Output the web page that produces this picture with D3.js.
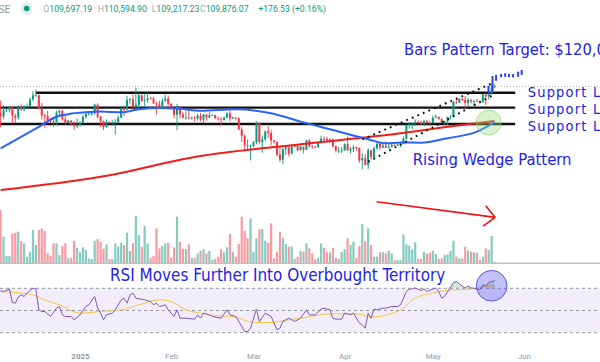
<!DOCTYPE html>
<html>
<head>
<meta charset="utf-8">
<script src="https://cdn.jsdelivr.net/npm/d3@7"></script>
<style>
  html, body { margin: 0; padding: 0; background: #fff; }
  svg { display: block; }
</style>
</head>
<body>
<svg id="chart"></svg>
<script>
// daily candles Dec 5 2024 .. May 22 2025, prices in $ thousands
var opens = [
  98.6, 97.0, 99.9, 99.9, 101.2, 97.3, 96.6, 101.1, 100.0, 101.4, 101.4, 104.3, 106.1, 106.1, 100.2, 97.5, 97.2, 95.2, 94.9, 94.7, 98.7, 99.4, 95.8, 94.3, 95.3, 93.7, 92.8,
  93.4, 94.4, 96.9, 98.1, 98.2, 98.3, 102.1, 96.9, 95.0, 92.5, 94.7, 94.5, 94.5, 94.6, 96.5, 100.5, 99.9, 104.1, 104.4, 101.1, 102.0, 106.1, 103.7, 104.0, 104.8, 104.7, 102.6, 102.1, 101.3, 103.7, 104.7,
  102.4, 100.7, 97.7, 101.4, 97.9, 96.6, 96.6, 96.5, 96.5, 96.1, 97.4, 95.7, 97.8, 96.6, 97.5, 97.6, 96.1, 95.8, 95.5, 96.6, 98.3, 96.1, 96.6, 96.3, 91.4, 88.7, 84.7, 84.4,
  84.4, 86.0, 94.3, 86.1, 87.2, 90.6, 89.9, 86.7, 86.1, 80.7, 78.5, 83.0, 83.7, 81.1, 84.0, 84.3, 82.6, 84.1, 82.7, 86.8, 84.2, 84.0, 83.8, 86.1, 87.5, 87.4, 86.9, 87.2, 84.3, 82.4, 82.4,
  82.5, 85.2, 82.5, 83.1, 83.8, 83.5, 78.2, 79.2, 76.3, 82.6, 79.6, 83.4, 85.3, 83.7, 84.5, 83.6, 84.0, 84.9, 84.5, 85.1, 85.2, 87.5, 93.4, 93.7, 93.9, 94.7, 94.6, 93.8, 95.0, 94.3,
  94.2, 96.5, 96.9, 95.9, 94.3, 94.8, 96.8, 97.0, 103.2, 102.9, 104.6, 104.1, 102.8, 104.2, 103.5, 103.7, 103.5, 103.1, 106.5, 105.6, 106.8, 109.70
];
var highs = [
  103.9, 101.9, 100.5, 101.3, 101.2, 98.2, 101.9, 102.5, 101.9, 102.6, 105.1, 107.8, 108.4, 106.5, 102.8, 98.1, 99.5, 96.4, 96.5, 99.5, 99.9, 99.9, 97.5, 95.5, 95.3, 94.9, 96.2,
  95.0, 97.8, 98.9, 98.7, 98.8, 102.5, 102.7, 97.2, 95.3, 95.8, 94.9, 95.4, 95.9, 97.4, 100.7, 100.8, 105.9, 104.9, 106.3, 109.4, 107.2, 106.4, 106.8, 107.1, 105.3, 105.5, 103.2, 103.8, 104.8, 106.4, 106.0,
  102.8, 101.5, 102.5, 101.7, 99.0, 99.2, 100.1, 96.9, 97.3, 98.3, 98.5, 98.1, 98.0, 98.8, 97.9, 97.7, 97.0, 96.8, 96.9, 98.8, 99.5, 96.9, 96.7, 96.5, 92.5, 89.3, 87.1, 85.1,
  86.5, 95.0, 94.4, 88.9, 91.0, 92.8, 91.3, 86.9, 86.5, 83.9, 83.6, 84.4, 84.3, 85.2, 84.7, 85.1, 84.7, 84.1, 87.0, 87.4, 84.8, 84.5, 86.1, 88.8, 88.5, 88.3, 87.8, 87.5, 84.6, 83.9, 83.9,
  85.5, 88.5, 83.9, 84.7, 84.2, 83.8, 81.2, 80.8, 83.5, 82.7, 84.2, 85.9, 86.0, 85.8, 86.4, 85.4, 85.4, 85.1, 85.6, 85.3, 88.5, 93.8, 94.5, 94.0, 95.8, 95.3, 95.2, 95.6, 95.5, 95.2,
  97.4, 97.9, 96.9, 96.3, 95.2, 96.9, 97.7, 103.7, 104.3, 104.9, 104.9, 105.8, 104.9, 104.3, 104.2, 104.6, 103.7, 106.7, 107.1, 107.3, 110.8, 110.59
];
var lows = [
  92.5, 95.9, 98.9, 98.7, 94.2, 94.3, 95.7, 99.3, 99.2, 100.6, 101.2, 103.3, 105.3, 100.1, 95.7, 92.2, 94.3, 94.2, 92.4, 93.4, 97.6, 95.2, 93.5, 94.1, 93.0, 91.3, 92.0,
  92.7, 94.2, 96.0, 97.5, 97.3, 97.9, 96.1, 92.5, 91.2, 92.2, 93.8, 93.7, 89.3, 94.3, 96.5, 97.3, 99.9, 102.3, 99.6, 99.5, 100.1, 103.3, 101.2, 102.8, 104.2, 102.5, 97.8, 100.3, 101.3, 103.3, 101.6,
  100.3, 96.2, 91.2, 96.2, 96.2, 95.7, 95.7, 95.7, 94.7, 95.3, 94.9, 94.1, 95.2, 96.3, 97.2, 96.1, 95.2, 93.4, 95.3, 96.4, 94.9, 95.8, 95.3, 91.3, 86.1, 82.3, 83.0, 78.2,
  83.8, 85.1, 85.1, 81.5, 86.4, 87.8, 84.7, 85.3, 80.0, 77.5, 76.6, 80.5, 79.9, 80.8, 83.6, 82.0, 82.4, 81.2, 82.7, 83.7, 83.2, 83.6, 83.8, 85.5, 86.3, 85.9, 85.8, 83.6, 81.6, 81.3, 81.3,
  82.4, 82.3, 81.2, 81.7, 82.4, 77.2, 74.4, 76.2, 74.6, 78.5, 78.9, 82.8, 82.8, 83.7, 83.6, 83.1, 83.8, 84.3, 84.5, 83.9, 85.1, 87.1, 91.8, 91.7, 92.9, 93.9, 93.6, 92.9, 93.7, 92.9,
  94.1, 96.3, 95.7, 94.2, 93.5, 93.4, 95.8, 97.0, 102.3, 102.8, 103.4, 100.8, 101.5, 102.6, 101.4, 103.1, 102.6, 103.1, 102.0, 104.2, 106.1, 109.22
];
var closes = [
  97.0, 99.9, 99.9, 101.2, 97.3, 96.6, 101.1, 100.0, 101.4, 101.4, 104.3, 106.1, 106.1, 100.2, 97.5, 97.2, 95.2, 94.9, 94.7, 98.7, 99.4, 95.8, 94.3, 95.3, 93.7, 92.8, 93.4,
  94.4, 96.9, 98.1, 98.2, 98.3, 102.1, 96.9, 95.0, 92.5, 94.7, 94.5, 94.5, 94.6, 96.5, 100.5, 99.9, 104.1, 104.4, 101.1, 102.0, 106.1, 103.7, 104.0, 104.8, 104.7, 102.6, 102.1, 101.3, 103.7, 104.7, 102.4,
  100.7, 97.7, 101.4, 97.9, 96.6, 96.6, 96.5, 96.5, 96.1, 97.4, 95.7, 97.8, 96.6, 97.5, 97.6, 96.1, 95.8, 95.5, 96.6, 98.3, 96.1, 96.6, 96.3, 91.4, 88.7, 84.7, 84.4, 84.4,
  86.0, 94.3, 86.1, 87.2, 90.6, 89.9, 86.7, 86.1, 80.7, 78.5, 83.0, 83.7, 81.1, 84.0, 84.3, 82.6, 84.1, 82.7, 86.8, 84.2, 84.0, 83.8, 86.1, 87.5, 87.4, 86.9, 87.2, 84.3, 82.4, 82.4, 82.5,
  85.2, 82.5, 83.1, 83.8, 83.5, 78.2, 79.2, 76.3, 82.6, 79.6, 83.4, 85.3, 83.7, 84.5, 83.6, 84.0, 84.9, 84.5, 85.1, 85.2, 87.5, 93.4, 93.7, 93.9, 94.7, 94.6, 93.8, 95.0, 94.3, 94.2,
  96.5, 96.9, 95.9, 94.3, 94.8, 96.8, 97.0, 103.2, 102.9, 104.6, 104.1, 102.8, 104.2, 103.5, 103.7, 103.5, 103.1, 106.5, 105.6, 106.8, 109.7, 109.88
];
// volume, relative units
var volumes = [
  158, 78, 20, 20, 88, 90, 93, 65, 58, 18, 33, 98, 53, 98, 103, 95, 28, 21, 58, 58,
  23, 50, 58, 13, 15, 66, 45, 31, 46, 38, 13, 11, 66, 71, 63, 42, 55, 11, 10, 58,
  48, 60, 53, 90, 35, 58, 140, 83, 48, 110, 58, 15, 20, 103, 43, 50, 58, 60, 15, 46,
  138, 63, 41, 41, 55, 14, 15, 28, 35, 40, 28, 35, 8, 11, 18, 40, 31, 46, 86, 33,
  18, 56, 138, 96, 74, 133, 33, 73, 100, 101, 66, 60, 118, 13, 33, 93, 75, 56, 48, 48,
  11, 18, 35,
  33, 58, 43, 28, 10, 15, 58, 45, 31, 31, 45, 15, 11, 32, 41, 73, 53, 63, 15, 50,
  116, 65, 103, 53, 18, 18, 31, 32, 28, 35, 28, 8, 8, 8, 85, 55, 51, 40, 61, 11,
  11, 33, 27, 30, 36, 26, 11, 13, 23, 25, 35, 66, 18, 13, 13, 48, 36, 33, 31, 30,
  8, 18, 43, 38, 80, 3
];

// moving averages, $ thousands
var ma50 = [
  ["2024-12-05", 83.4], ["2024-12-18", 92.6], ["2024-12-24", 96.9], ["2024-12-28", 98.0],
  ["2025-01-03", 98.8], ["2025-01-08", 99.1], ["2025-01-15", 98.8], ["2025-01-21", 100.1],
  ["2025-01-28", 100.6], ["2025-02-04", 100.3], ["2025-02-11", 99.5], ["2025-02-23", 100.1],
  ["2025-03-07", 98.4], ["2025-03-17", 94.8], ["2025-03-28", 91.2], ["2025-04-09", 87.3],
  ["2025-04-15", 85.5], ["2025-04-20", 85.9], ["2025-04-27", 85.8], ["2025-05-06", 87.7],
  ["2025-05-16", 90.5], ["2025-05-22", 94.6]
];
var ma200 = [
  ["2024-12-05", 65.5], ["2025-01-08", 71.2], ["2025-02-11", 80.1], ["2025-03-17", 85.1],
  ["2025-04-20", 89.8], ["2025-05-06", 92.6], ["2025-05-22", 95.1]
];

// RSI(14) and its moving average
var rsi = [
  ["2024-12-05", 68.0], ["2024-12-06", 67.1], ["2024-12-08", 69.3], ["2024-12-09", 57.2], ["2024-12-10", 56.6],
  ["2024-12-11", 62.1], ["2024-12-12", 64.1], ["2024-12-13", 62.6], ["2024-12-14", 65.7], ["2024-12-16", 70.2],
  ["2024-12-17", 69.3], ["2024-12-18", 50.6], ["2024-12-19", 49.1], ["2024-12-20", 49.1], ["2024-12-22", 44.6],
  ["2024-12-24", 52.1], ["2024-12-25", 53.6], ["2024-12-26", 46.1], ["2024-12-27", 44.6], ["2024-12-29", 44.6],
  ["2024-12-30", 41.6], ["2025-01-01", 46.1], ["2025-01-03", 53.6], ["2025-01-04", 55.1], ["2025-01-06", 62.6],
  ["2025-01-07", 52.1], ["2025-01-08", 47.6], ["2025-01-09", 41.6], ["2025-01-10", 46.1], ["2025-01-12", 47.6],
  ["2025-01-13", 50.6], ["2025-01-15", 59.6], ["2025-01-16", 61.1], ["2025-01-17", 56.6], ["2025-01-18", 64.1],
  ["2025-01-19", 65.7], ["2025-01-20", 61.1], ["2025-01-23", 59.6], ["2025-01-25", 58.1], ["2025-01-26", 55.1],
  ["2025-01-27", 56.6], ["2025-01-28", 53.6], ["2025-01-30", 55.1], ["2025-01-31", 50.6], ["2025-02-02", 44.6],
  ["2025-02-03", 50.6], ["2025-02-04", 43.1], ["2025-02-06", 43.1], ["2025-02-09", 42.2], ["2025-02-10", 46.1],
  ["2025-02-11", 43.1], ["2025-02-12", 47.6], ["2025-02-14", 46.1], ["2025-02-15", 44.6], ["2025-02-18", 43.1],
  ["2025-02-20", 50.6], ["2025-02-21", 46.1], ["2025-02-22", 45.2], ["2025-02-23", 44.6], ["2025-02-25", 35.6],
  ["2025-02-26", 31.1], ["2025-02-27", 31.1], ["2025-02-28", 34.1], ["2025-03-02", 51.3], ["2025-03-03", 40.1],
  ["2025-03-05", 47.6], ["2025-03-07", 44.6], ["2025-03-09", 32.6], ["2025-03-10", 34.1], ["2025-03-11", 40.1],
  ["2025-03-13", 43.1], ["2025-03-15", 40.1], ["2025-03-17", 43.1], ["2025-03-19", 50.6], ["2025-03-20", 46.1],
  ["2025-03-22", 46.1], ["2025-03-24", 51.3], ["2025-03-25", 52.1], ["2025-03-27", 50.6], ["2025-03-28", 43.1],
  ["2025-03-29", 42.2], ["2025-03-31", 42.2], ["2025-04-01", 47.6], ["2025-04-03", 46.1], ["2025-04-04", 47.6],
  ["2025-04-06", 38.6], ["2025-04-07", 37.1], ["2025-04-08", 34.1], ["2025-04-09", 47.6], ["2025-04-10", 43.1],
  ["2025-04-11", 51.3], ["2025-04-12", 50.6], ["2025-04-14", 52.1], ["2025-04-15", 52.1], ["2025-04-17", 53.6],
  ["2025-04-19", 53.6], ["2025-04-20", 55.1], ["2025-04-22", 67.1], ["2025-04-23", 69.3], ["2025-04-24", 69.3],
  ["2025-04-25", 70.2], ["2025-04-27", 68.0], ["2025-04-28", 69.3], ["2025-04-29", 67.1], ["2025-05-01", 69.3],
  ["2025-05-02", 70.2], ["2025-05-03", 67.1], ["2025-05-04", 61.1], ["2025-05-05", 62.6], ["2025-05-08", 75.2],
  ["2025-05-09", 76.1], ["2025-05-10", 74.0], ["2025-05-12", 70.2], ["2025-05-13", 72.2], ["2025-05-14", 70.2],
  ["2025-05-15", 70.2], ["2025-05-17", 68.6], ["2025-05-18", 73.1], ["2025-05-19", 72.2], ["2025-05-20", 75.2],
  ["2025-05-22", 77.0]
];
var rsiMa = [
  ["2024-12-05", 67.1], ["2024-12-12", 65.7], ["2024-12-16", 64.1], ["2024-12-20", 59.6], ["2024-12-25", 55.1],
  ["2025-01-01", 47.6], ["2025-01-08", 49.1], ["2025-01-15", 50.6], ["2025-01-21", 55.1], ["2025-01-28", 59.6],
  ["2025-02-01", 58.1], ["2025-02-06", 50.6], ["2025-02-11", 47.6], ["2025-02-17", 45.2], ["2025-02-22", 44.6],
  ["2025-03-01", 39.2], ["2025-03-07", 39.2], ["2025-03-13", 41.6], ["2025-03-17", 43.1], ["2025-03-28", 47.0],
  ["2025-04-05", 47.0], ["2025-04-10", 44.1], ["2025-04-18", 48.2], ["2025-04-21", 52.1], ["2025-04-24", 59.6],
  ["2025-05-01", 65.7], ["2025-05-08", 68.6], ["2025-05-15", 69.5], ["2025-05-19", 71.6], ["2025-05-22", 72.2]
];
var rsiLevels = [70, 50, 30];

// drawings
var supportLevels = [107.2, 100.8, 93.8];
var supportStarts = ["2024-12-17", "2024-12-04", "2024-12-04"];
var supportEnd = "2025-05-29";
var wedgeUpper = [["2025-04-07", 87.2], ["2025-05-21", 111.1]];
var wedgeLower = [["2025-04-09", 77.6], ["2025-05-22", 106.5]];
var patternDates = ["2025-05-19T22:00", "2025-05-21T07:00", "2025-05-22T12:00", "2025-05-24T05:00", "2025-05-25T14:00",
  "2025-05-26T22:00", "2025-05-28T07:00", "2025-05-30T00:00", "2025-05-31T05:00"];
var patternHighs = [110.1, 114.3, 114.8, 115.2, 115.5, 115.2, 115.2, 116.2, 116.9];
var patternLows = [107.1, 107.6, 112.3, 113.8, 114.0, 113.8, 113.8, 114.0, 114.8];
var crossCircle = {date: "2025-05-20", price: 94.4};
var rsiCircle = {date: "2025-05-21", value: 72.3};
var volArrow = [["2025-04-11T21:00", 183], ["2025-05-22T05:00", 136]];

var tickDates = ["2025-01-01", "2025-02-01", "2025-03-01", "2025-04-01", "2025-05-01", "2025-06-01"];
var tickLabels = ["2025", "Feb", "Mar", "Apr", "May", "Jun"];

var headerKeys = ["O", "H", "L", "C"];
var headerValues = ["109,697.19", "110,594.90", "109,217.23", "109,876.07"];
var headerChange = "+176.53 (+0.16%)";

var width = 600, height = 362;
var svg = d3.select("#chart").attr("width", width).attr("height", height);
svg.append("rect").attr("width", width).attr("height", height).attr("fill", "#fff");

var parse = d3.utcParse("%Y-%m-%d");
var parseT = function(s) { return s.length > 10 ? new Date(s + ":00Z") : parse(s); };
var dates = d3.utcDay.range(parse("2024-12-05"), parse("2025-05-23"));
[opens, highs, lows, closes, volumes].forEach(function(a) {
  if (a.length !== dates.length) throw new Error("length " + a.length + " vs " + dates.length);
});

var candles = dates.map(function(d, i) {
  return {date: d, o: opens[i], h: highs[i], l: lows[i], c: closes[i], v: volumes[i]};
});

var x = d3.scaleUtc().domain([parse("2025-01-01"), parse("2025-06-01")]).range([80, 524]);
var y = d3.scaleLinear().domain([74.4, 108.35]).range([169.3, 90]);
var yVol = d3.scaleLinear().domain([0, 160]).range([262.7, 209.4]);
var yRsi = d3.scaleLinear().domain([30, 70]).range([332.7, 288.3]);

var upColor = "#089981", downColor = "#f23645";
var blue = "#1e22e8";
var isUp = function(d) { return d.c >= d.o; };

// header
var header = svg.append("g").attr("font-family", "Roboto, sans-serif");
header.append("text").attr("x", 10.5).attr("y", 12.5).attr("text-anchor", "end")
  .attr("font-size", 10.5).attr("fill", "#9598a1").text("Bitcoin / U.S. Dollar · 1D · COINBASE");
header.append("circle").attr("cx", 26.7).attr("cy", 8.5).attr("r", 6).attr("fill", "#dcefeb");
header.append("circle").attr("cx", 26.7).attr("cy", 8.5).attr("r", 2.8).attr("fill", upColor);
var headerX = [43.3, 97.7, 151.7, 200];
var headerItems = headerKeys.map(function(k, i) {
  var t = header.append("text").attr("x", headerX[i]).attr("y", 11.8).attr("font-size", 10);
  t.append("tspan").attr("fill", "#a3a6af").text(k);
  t.append("tspan").attr("fill", upColor).text(headerValues[i]);
  return t;
});
var headerFs = 10 * 49 / headerItems[0].node().getComputedTextLength();
headerItems.forEach(function(t) { t.attr("font-size", headerFs); });
header.append("text").attr("x", 258.3).attr("y", 11.8).attr("font-size", headerFs)
  .attr("fill", upColor).text(headerChange);

// last price line
svg.append("line").attr("x1", 0).attr("x2", width)
  .attr("y1", y(closes[closes.length - 1])).attr("y2", y(closes[closes.length - 1]))
  .attr("stroke", "#b2b5be").attr("stroke-dasharray", "1,2");

// support lines
supportLevels.forEach(function(p, i) {
  svg.append("line")
    .attr("x1", x(parse(supportStarts[i]))).attr("x2", x(parse(supportEnd)))
    .attr("y1", y(p)).attr("y2", y(p))
    .attr("stroke", "#111").attr("stroke-width", 2.4);
});

// volume
var gVol = svg.append("g");
gVol.selectAll("rect").data(candles).enter().append("rect")
  .attr("x", function(d) { return x(d.date) - 1.1; })
  .attr("width", 2.2)
  .attr("y", function(d) { return yVol(d.v); })
  .attr("height", function(d) { return yVol(0) - yVol(d.v); })
  .attr("fill", function(d) { return isUp(d) ? upColor : downColor; })
  .attr("fill-opacity", 0.5);
svg.append("line").attr("x1", 0).attr("x2", width).attr("y1", yVol(0) + 0.5).attr("y2", yVol(0) + 0.5)
  .attr("stroke", "#a0a3ab");

// candles
var gC = svg.append("g");
gC.selectAll("line").data(candles).enter().append("line")
  .attr("x1", function(d) { return x(d.date); })
  .attr("x2", function(d) { return x(d.date); })
  .attr("y1", function(d) { return y(d.h); })
  .attr("y2", function(d) { return y(d.l); })
  .attr("stroke", function(d) { return isUp(d) ? upColor : downColor; })
  .attr("stroke-width", 0.9);
gC.selectAll("rect").data(candles).enter().append("rect")
  .attr("x", function(d) { return x(d.date) - 1; })
  .attr("width", 2)
  .attr("y", function(d) { return y(Math.max(d.o, d.c)); })
  .attr("height", function(d) { return Math.max(0.8, Math.abs(y(d.o) - y(d.c))); })
  .attr("fill", function(d) { return isUp(d) ? upColor : downColor; });

// moving averages
var maLine = d3.line()
  .x(function(d) { return x(parse(d[0])); })
  .y(function(d) { return y(d[1]); })
  .curve(d3.curveMonotoneX);
svg.append("path").attr("d", maLine(ma200)).attr("fill", "none")
  .attr("stroke", "#f01d1d").attr("stroke-width", 2);
svg.append("path").attr("d", maLine(ma50)).attr("fill", "none")
  .attr("stroke", "#2962ff").attr("stroke-width", 2);

// rising wedge
var wedgeLine = d3.line().x(function(d) { return x(parse(d[0])); }).y(function(d) { return y(d[1]); });
[wedgeUpper, wedgeLower].forEach(function(w) {
  svg.append("path").attr("d", wedgeLine(w)).attr("fill", "none")
    .attr("stroke", "#111").attr("stroke-width", 2).attr("stroke-dasharray", "1.8,4.2");
});

// bars pattern projection
svg.append("g").selectAll("rect").data(patternDates).enter().append("rect")
  .attr("x", function(d) { return x(parseT(d)) - 1; })
  .attr("width", 2)
  .attr("y", function(d, i) { return y(patternHighs[i]); })
  .attr("height", function(d, i) { return y(patternLows[i]) - y(patternHighs[i]); })
  .attr("fill", "#2a40f0");

// golden cross circle
svg.append("circle").attr("cx", x(parse(crossCircle.date))).attr("cy", y(crossCircle.price)).attr("r", 12.5)
  .attr("fill", "rgba(150,220,120,0.38)").attr("stroke", "rgba(120,200,100,0.55)").attr("stroke-width", 1);

// volume arrow
var a0 = [x(parseT(volArrow[0][0])), yVol(volArrow[0][1])];
var a1 = [x(parseT(volArrow[1][0])), yVol(volArrow[1][1])];
var ang = Math.atan2(a0[1] - a1[1], a0[0] - a1[0]);
var headLen = 15, spread = 43 * Math.PI / 180;
var gArrow = svg.append("g").attr("stroke", "#f01010").attr("stroke-width", 1.6).attr("fill", "none");
gArrow.append("line").attr("x1", a0[0]).attr("y1", a0[1]).attr("x2", a1[0]).attr("y2", a1[1]);
[-spread, spread].forEach(function(s) {
  gArrow.append("line").attr("x1", a1[0]).attr("y1", a1[1])
    .attr("x2", a1[0] + headLen * Math.cos(ang + s)).attr("y2", a1[1] + headLen * Math.sin(ang + s));
});

// RSI pane
svg.append("rect").attr("x", 0).attr("width", width)
  .attr("y", yRsi(70)).attr("height", yRsi(30) - yRsi(70))
  .attr("fill", "rgba(126,87,194,0.1)");
rsiLevels.forEach(function(l) {
  svg.append("line").attr("x1", 0).attr("x2", width).attr("y1", yRsi(l)).attr("y2", yRsi(l))
    .attr("stroke", "#9598a1").attr("stroke-dasharray", "3,3");
});
svg.append("clipPath").attr("id", "ob").append("rect")
  .attr("x", 0).attr("y", 0).attr("width", width).attr("height", yRsi(70));
var obArea = d3.area()
  .x(function(d) { return x(parse(d[0])); })
  .y0(yRsi(70))
  .y1(function(d) { return yRsi(d[1]); });
svg.append("path").attr("d", obArea(rsi)).attr("clip-path", "url(#ob)")
  .attr("fill", "rgba(76,175,80,0.25)");
var rsiLine = d3.line().x(function(d) { return x(parse(d[0])); }).y(function(d) { return yRsi(d[1]); });
svg.append("path").attr("d", rsiLine.curve(d3.curveMonotoneX)(rsiMa)).attr("fill", "none")
  .attr("stroke", "#f5c542").attr("stroke-width", 1);
svg.append("path").attr("d", rsiLine.curve(d3.curveLinear)(rsi)).attr("fill", "none")
  .attr("stroke", "#7e57c2").attr("stroke-width", 1);
svg.append("circle").attr("cx", x(parse(rsiCircle.date))).attr("cy", yRsi(rsiCircle.value)).attr("r", 15.3)
  .attr("fill", "rgba(80,80,235,0.35)").attr("stroke", "#5555e8").attr("stroke-width", 1);

// annotations
var font = "'DejaVu Sans Condensed', 'DejaVu Sans', sans-serif";
function note(tx, ty, str) {
  return svg.append("text").attr("x", tx).attr("y", ty).attr("font-family", font)
    .attr("font-size", 16).attr("fill", blue).text(str);
}
var rising = note(412.7, 165, "Rising Wedge Pattern");
var fs = 16 * 159 / rising.node().getComputedTextLength();
rising.attr("font-size", fs);
var bars = note(404, 55, "Bars Pattern Target: $120,000");
bars.attr("font-size", 16 * 192.7 / bars.node().getSubStringLength(0, 26));
[97, 114, 131].forEach(function(ty) {
  note(527.7, ty, "Support Level").attr("font-size", 14.5).attr("letter-spacing", 1.2);
});
var rsiTitle = note(110, 280.7, "RSI Moves Further Into Overbought Territory");
rsiTitle.attr("font-size", 16 * 335.7 / rsiTitle.node().getComputedTextLength());

// time axis
var axis = svg.append("g").attr("transform", "translate(0,353.8)")
  .call(d3.axisBottom(x).tickValues(tickDates.map(parse))
    .tickFormat(function(d, i) { return tickLabels[i]; }).tickSize(0).tickPadding(0));
axis.select(".domain").remove();
axis.selectAll("text").attr("font-family", "Roboto, sans-serif").attr("font-size", 8)
  .attr("fill", "#9598a1")
  .attr("font-weight", function(d, i) { return i === 0 ? "bold" : null; });
</script>
</body>
</html>
